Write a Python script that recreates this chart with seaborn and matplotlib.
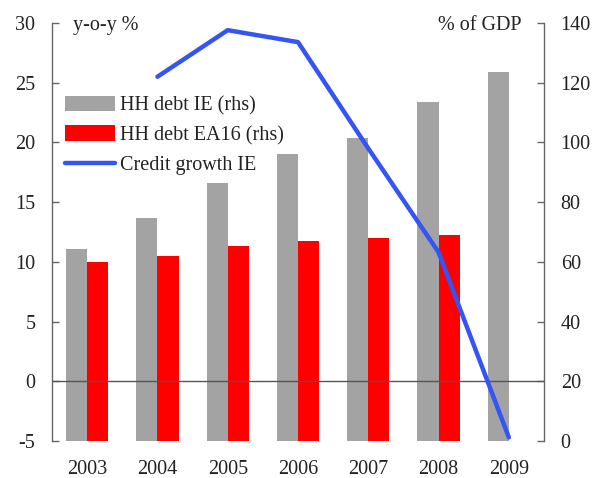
import numpy as np
import pandas as pd
import matplotlib
matplotlib.use("Agg")
import matplotlib.pyplot as plt
import seaborn as sns

years = ["2003", "2004", "2005", "2006", "2007", "2008", "2009"]
hh_debt_ie = [64.3, 74.7, 86.5, 96.1, 101.5, 113.5, 123.6]
hh_debt_ea16 = [59.9, 62.0, 65.3, 67.0, 68.0, 69.0, np.nan]
credit_growth_ie = [np.nan, 25.5, 29.4, 28.4, 19.5, 10.8, -4.7]

left_ticks = [-5, 0, 5, 10, 15, 20, 25, 30]
right_ticks = [0, 20, 40, 60, 80, 100, 120, 140]

sns.set_style("white")
plt.rcParams['font.family'] = ['Liberation Serif', 'DejaVu Serif']
plt.rcParams['axes.unicode_minus'] = False
FS = 14.5
TXT = '#222222'

fig = plt.figure(figsize=(5.94, 4.78), dpi=100)
ax_l = fig.add_axes([52/594, 37/478, 492/594, 418/478])
ax_r = ax_l.twinx()

bars = pd.DataFrame({
    "year": years * 2,
    "value": hh_debt_ie + hh_debt_ea16,
    "series": ["HH debt IE (rhs)"] * len(years) + ["HH debt EA16 (rhs)"] * len(years),
})
sns.barplot(data=bars, x="year", y="value", hue="series", ax=ax_r,
            palette=["#a3a3a3", "#ff0000"], width=0.6, saturation=1,
            order=years, linewidth=0, legend=True)

line_df = pd.DataFrame({"pos": np.arange(len(years)), "credit": credit_growth_ie}).dropna()
sns.lineplot(data=line_df, x="pos", y="credit", ax=ax_l, color="#3454f5",
             linewidth=3.2, label="Credit growth IE")

ax_l.set_zorder(ax_r.get_zorder() + 1)
ax_l.patch.set_visible(False)

ax_l.axhline(0, color="#555555", linewidth=1, zorder=1)

ax_l.set_xlim(-0.5, 6.5)
ax_r.set_xlim(-0.5, 6.5)
ax_l.set_ylim(-5, 30)
ax_r.set_ylim(0, 140)
ax_l.set_yticks(left_ticks)
ax_r.set_yticks(right_ticks)
ax_l.set_xticks(np.arange(len(years)))
ax_l.set_xticklabels(years)
ax_r.set_xlabel("")
ax_r.set_ylabel("")
ax_l.set_xlabel("")
ax_l.set_ylabel("")

for a in (ax_l, ax_r):
    for s in ("top", "bottom"):
        a.spines[s].set_visible(False)
ax_l.spines["right"].set_visible(False)
ax_r.spines["left"].set_visible(False)
ax_l.spines["left"].set_color("#666666")
ax_r.spines["right"].set_color("#666666")
ax_l.spines["left"].set_linewidth(1)
ax_r.spines["right"].set_linewidth(1)

ax_l.tick_params(axis="y", direction="in", length=5, width=1, color="#666666",
                 pad=12, labelsize=FS, labelcolor=TXT, left=True)
ax_r.tick_params(axis="y", direction="in", length=5, width=1, color="#666666",
                 pad=12, labelsize=FS, labelcolor=TXT, right=True)
ax_l.tick_params(axis="x", length=0, pad=14, labelsize=FS, labelcolor=TXT)
ax_r.tick_params(axis="x", length=0, labelbottom=False)

ax_l.text(0.043, 0.995, "y-o-y %", transform=ax_l.transAxes, ha="left", va="center",
          fontsize=FS, color=TXT)
ax_l.text(0.955, 0.995, "% of GDP", transform=ax_l.transAxes, ha="right", va="center",
          fontsize=FS, color=TXT)

h1, l1 = ax_r.get_legend_handles_labels()
h2, l2 = ax_l.get_legend_handles_labels()
if ax_r.get_legend() is not None:
    ax_r.get_legend().remove()
if ax_l.get_legend() is not None:
    ax_l.get_legend().remove()
leg = ax_l.legend(h1 + h2, l1 + l2, loc="upper left", bbox_to_anchor=(-0.003, 0.86),
                  frameon=False, fontsize=14.5, handlelength=2.5, handleheight=0.8,
                  handletextpad=0.25, labelspacing=0.5, borderaxespad=0.3)
for t in leg.get_texts():
    t.set_color(TXT)

fig.savefig("out.png", dpi=100)
